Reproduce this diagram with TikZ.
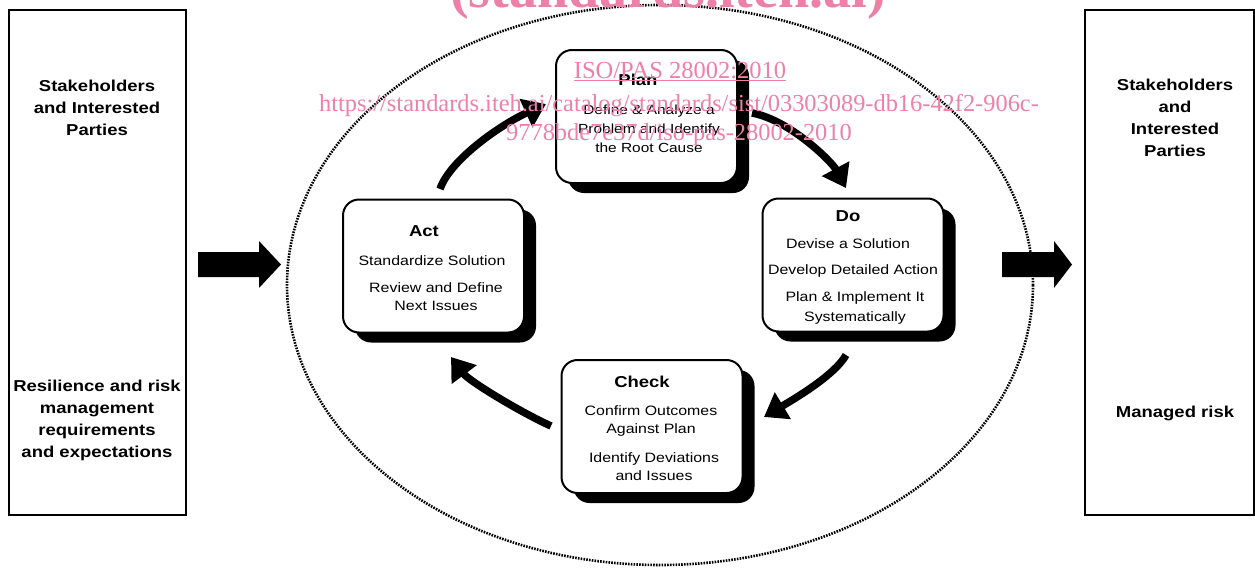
\documentclass[tikz,border=0pt]{standalone}
\usepackage{fontspec}
\setmainfont{Liberation Sans}[FakeStretch=1.17]
\newfontfamily\wmfont{Liberation Serif}
\usetikzlibrary{arrows.meta,shadows}
\definecolor{wm}{RGB}{238,128,168}
\begin{document}
\begin{tikzpicture}[x=1pt,y=-1pt,
  sidebox/.style={draw, line width=2pt, inner sep=0pt, minimum height=505pt},
  pdca/.style={draw, line width=2pt, fill=white, rounded corners=16pt, inner sep=0pt,
    minimum width=181pt, minimum height=133pt,
    drop shadow={shadow xshift=12pt, shadow yshift=-10pt, fill=black, opacity=1}},
  ttl/.style={font=\bfseries\fontsize{15.8}{18}\selectfont, inner sep=0pt},
  body/.style={font=\fontsize{13.6}{18}\selectfont, align=center, inner sep=0pt},
  side/.style={font=\bfseries\fontsize{15.8}{22}\selectfont, align=center, inner sep=0pt},
  cyc/.style={line width=7.5pt, -{Triangle[length=22pt,width=30pt]}},
  blockarrow/.style={fill=black, draw=none},
  wmtext/.style={text=wm, inner sep=0pt, anchor=base}]
\useasboundingbox (0,0) rectangle (1255,570);

% side boxes
\node[sidebox, minimum width=177pt] (left) at (97.5,262.5) {};
\node[sidebox, minimum width=169pt] (right) at (1169.5,262.5) {};

\node[side] (l1) at (97,108) {Stakeholders\\and Interested\\Parties};
\node[side] (l2) at (97,420) {Resilience and risk\\management\\requirements\\and expectations};
\node[side] (r1) at (1175,118) {Stakeholders\\and\\Interested\\Parties};
\node[side] (r2) at (1175,413) {Managed risk};

% dotted ellipse
\draw[line width=2.6pt, dash pattern=on 1.6pt off 1.2pt] (660,285) ellipse [x radius=373, y radius=280];

% block arrows
\fill[blockarrow] (198,252) -- (259,252) -- (259,241) -- (281,264.5) -- (259,288) -- (259,277) -- (198,277) -- cycle;
\fill[blockarrow] (1002,252) -- (1054,252) -- (1054,241) -- (1072,264.5) -- (1054,288) -- (1054,277) -- (1002,277) -- cycle;

% PDCA boxes
\node[pdca] (plan) at (646.5,116.5) {};
\node[pdca] (do) at (853,265) {};
\node[pdca] (act) at (433.5,266) {};
\node[pdca] (check) at (652,426.5) {};

% texts
\node[ttl] (plant) at (638,80) {Plan};
\node[body, font=\fontsize{13.2}{19}\selectfont] (planb) at (649,129) {Define \& Analyze a\\Problem and Identify\\the Root Cause};

\node[ttl] (dot) at (848,216) {Do};
\node[body] (do1) at (848,244) {Devise a Solution};
\node[body] (do2) at (853,271) {Develop Detailed Action};
\node[body, font=\fontsize{13.6}{20}\selectfont] (do3) at (855,308) {Plan \& Implement It\\Systematically};

\node[ttl] (actt) at (424,231) {Act};
\node[body] (act1) at (432,261) {Standardize Solution};
\node[body] (act2) at (436,297) {Review and Define\\Next Issues};

\node[ttl] (checkt) at (642,382) {Check};
\node[body] (check1) at (651,421) {Confirm Outcomes\\Against Plan};
\node[body] (check2) at (654,467) {Identify Deviations\\and Issues};

% cycle arrows
\coordinate (a1s) at (440,189); \coordinate (a1e) at (546,104);
\coordinate (a2s) at (752,113); \coordinate (a2e) at (846,188);
\coordinate (a3s) at (846,355); \coordinate (a3e) at (764,417);
\coordinate (a4s) at (551,426); \coordinate (a4e) at (451,357);
\draw[cyc] (a1s) .. controls (450,160) and (500,125) .. (a1e);
\draw[cyc] (a2s) .. controls (790,120) and (832,162) .. (a2e);
\draw[cyc] (a3s) .. controls (835,375) and (794,399) .. (a3e);
\draw[cyc] (a4s) .. controls (520,412) and (469,381) .. (a4e);

% watermark
\node[wmtext, font=\wmfont\bfseries\fontsize{56}{60}\selectfont] (wm1) at (668,8) {(standards.iteh.ai)};
\node[wmtext, font=\wmfont\fontsize{24.5}{28}\selectfont] (wm2) at (680,78) {\underline{ISO/PAS 28002:2010}};
\node[wmtext, font=\wmfont\fontsize{24.4}{28}\selectfont] (wm3) at (679,111) {https://standards.iteh.ai/catalog/standards/sist/03303089-db16-42f2-906c-};
\node[wmtext, font=\wmfont\fontsize{24.4}{28}\selectfont] (wm4) at (679,140) {9778bde7e37d/iso-pas-28002-2010};
\end{tikzpicture}
\end{document}
